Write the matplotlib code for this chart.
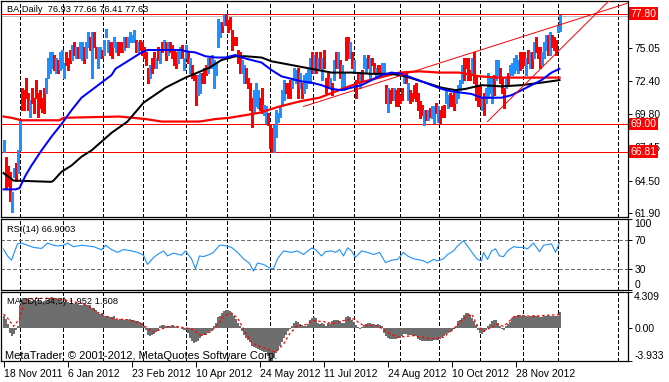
import numpy as np
import matplotlib
matplotlib.use("Agg")
import matplotlib.pyplot as plt
from matplotlib import font_manager

# ---- BA daily bars (bar 0 = 18 Nov 2011) ----
highs = [67.7, 66.4, 65.7, 65.2, 63.6, 65.5, 65.9, 66.9, 69.3, 71.9,
         71.7, 72.7, 71.5, 70.9, 71.9, 71.1, 72.5, 71.5, 71.7, 71.1,
         71.9, 72.7, 74.3, 74.7, 74.7, 74.5, 74.3, 74.1, 74.7, 74.9,
         73.9, 74.7, 74.3, 74.9, 75.3, 75.5, 75.1, 75.1, 75.5, 75.5,
         75.1, 75.5, 76.3, 75.9, 76.3, 76.3, 75.1, 75.1, 75.1, 74.9,
         75.7, 76.6, 75.7, 75.5, 75.5, 75.9, 75.5, 75.5, 75.5, 75.5,
         75.9, 75.9, 75.9, 76.3, 76.1, 76.5, 75.7, 75.5, 75.7, 75.5,
         75.1, 74.7, 73.5, 73.7, 74.3, 74.7, 74.3, 75.1, 74.9, 75.5,
         75.7, 75.5, 75.5, 75.5, 75.3, 74.9, 74.7, 74.9, 75.1, 75.3,
         74.3, 75.3, 74.7, 74.3, 73.7, 73.1, 72.9, 72.9, 73.1, 73.1,
         73.5, 73.7, 74.3, 74.3, 74.5, 74.1, 73.9, 77.4, 77.1, 77.1,
         77.8, 77.8, 77.3, 77.5, 76.5, 75.9, 75.9, 74.9, 74.7, 74.1,
         73.7, 73.5, 72.7, 72.3, 71.1, 71.7, 72.3, 71.7, 71.1, 71.9,
         70.5, 70.4, 69.9, 68.9, 68.7, 68.9, 70.1, 69.9, 70.4, 71.7,
         72.5, 72.3, 72.3, 72.5, 72.7, 73.5, 73.3, 73.5, 73.1, 72.3,
         72.9, 73.1, 73.5, 74.3, 74.7, 74.5, 74.7, 74.3, 74.7, 74.3,
         74.9, 72.7, 73.1, 72.7, 72.3, 74.1, 74.7, 74.7, 74.1, 73.7,
         73.1, 75.9, 75.9, 75.5, 74.7, 74.1, 72.5, 73.1, 73.1, 73.3,
         74.5, 74.3, 74.5, 74.3, 74.3, 73.9, 73.5, 73.7, 73.7, 73.9,
         73.9, 72.1, 71.9, 71.7, 71.9, 71.9, 71.7, 71.9, 71.3, 71.9,
         73.1, 73.1, 72.3, 71.7, 71.5, 72.1, 72.3, 71.5, 70.8, 70.5,
         70.1, 70.1, 70.1, 70.3, 70.4, 70.4, 70.7, 70.4, 70.1, 70.4,
         70.5, 71.9, 71.3, 71.5, 71.3, 71.5, 71.5, 72.1, 72.5, 73.7,
         74.3, 74.3, 74.3, 73.3, 74.3, 74.7, 72.9, 72.1, 72.1, 71.1,
         71.5, 71.9, 73.1, 72.7, 72.7, 72.9, 74.1, 74.1, 73.5, 72.7,
         71.9, 72.7, 73.1, 73.7, 73.9, 74.3, 74.5, 74.1, 74.7, 74.7,
         74.7, 74.3, 74.9, 74.7, 74.7, 75.5, 75.9, 75.1, 75.1, 74.7,
         75.5, 76.1, 76.1, 76.3, 76.1, 75.9, 75.7, 76.9, 77.66]
lows = [66.8, 63.9, 64.1, 62.9, 62.0, 64.8, 64.5, 65.1, 66.9, 70.1,
        70.1, 71.1, 70.1, 69.6, 70.7, 69.9, 71.1, 69.6, 70.3, 70.0,
        69.9, 71.5, 72.7, 73.1, 73.5, 73.3, 73.1, 73.1, 73.3, 73.5,
        72.7, 73.7, 73.3, 73.9, 74.1, 74.5, 74.3, 74.3, 74.3, 74.1,
        73.9, 74.3, 75.1, 74.9, 72.7, 75.1, 74.3, 73.5, 74.3, 74.3,
        74.5, 75.9, 74.7, 74.5, 74.3, 75.1, 74.7, 74.5, 74.7, 74.7,
        74.9, 75.1, 75.1, 75.5, 75.5, 75.5, 74.7, 74.7, 74.9, 74.5,
        74.3, 73.7, 72.3, 72.7, 73.1, 73.5, 73.5, 74.1, 73.9, 74.7,
        74.9, 74.1, 74.5, 74.7, 74.3, 73.7, 73.5, 73.9, 74.3, 74.3,
        73.3, 74.3, 73.9, 73.1, 72.7, 72.5, 70.5, 71.3, 71.5, 72.3,
        72.3, 72.9, 73.1, 73.5, 73.5, 71.9, 72.9, 75.1, 75.9, 76.3,
        76.9, 76.9, 76.3, 76.6, 74.9, 75.3, 75.3, 73.9, 73.1, 73.1,
        72.3, 72.3, 71.9, 70.1, 68.8, 69.9, 70.4, 70.3, 70.1, 69.9,
        69.7, 69.1, 68.9, 67.1, 66.8, 66.8, 68.0, 69.2, 69.6, 70.4,
        70.9, 71.5, 71.1, 71.1, 71.9, 72.5, 72.3, 71.1, 71.9, 71.1,
        71.5, 71.9, 72.3, 72.3, 73.1, 73.1, 73.1, 73.5, 73.5, 72.5,
        73.5, 71.5, 71.9, 71.9, 71.3, 72.5, 73.5, 73.5, 72.7, 71.9,
        71.7, 74.1, 74.3, 74.3, 73.5, 73.1, 71.1, 72.3, 71.9, 72.5,
        73.5, 73.1, 73.5, 72.7, 73.7, 73.1, 72.7, 73.1, 73.1, 73.1,
        73.1, 70.7, 70.0, 70.7, 70.9, 70.9, 70.4, 70.4, 70.7, 70.9,
        72.3, 72.3, 70.9, 70.7, 70.8, 71.1, 70.8, 70.1, 69.5, 69.7,
        68.9, 69.3, 69.3, 69.6, 69.5, 69.1, 69.9, 69.2, 69.1, 69.6,
        69.6, 70.7, 70.3, 70.4, 70.4, 70.1, 70.7, 71.1, 71.7, 72.3,
        72.5, 73.5, 72.5, 72.5, 73.1, 72.3, 70.9, 70.4, 70.4, 70.1,
        69.7, 70.7, 71.1, 71.5, 70.7, 71.3, 72.5, 72.9, 72.3, 71.5,
        70.3, 71.9, 72.1, 72.9, 72.9, 73.1, 73.3, 73.1, 73.3, 73.5,
        73.7, 72.9, 73.9, 73.5, 73.5, 74.3, 74.7, 74.3, 73.5, 73.7,
        74.3, 74.9, 74.5, 74.5, 75.1, 74.9, 74.5, 76.3, 76.41]
# u = up bar (blue), d = down bar (red), ten bars per chunk
updown = "".join([
    "uddduuduud", "dddudddddd", "duuuududuu", "udddududuu", "duududduud",
    "uuudduuddd", "uduuuududd", "ddduddudud", "ududddduud", "uududdduud",
    "dduduuuuud", "uddddddddu", "udddduuudd", "uuddduuuuu", "uddduuudud",
    "uuuudududu", "dddudududu", "uddududdud", "uududduddu", "ududdudddd",
    "ududdddddd", "ududuududd", "duuddduuuu", "dddduddddu", "duuuuduudd",
    "duduuuuudd", "dudududddu", "uududdduu",
])

# moving averages (bar, value) read at sample points
ma_blue_bar = [0, 6, 8, 11, 14, 19, 24, 29, 34, 39, 44, 49, 54, 56, 59, 63, 69, 72,
               81, 89, 91, 96, 101, 106, 111, 116, 119, 124, 129, 134, 139, 144,
               149, 154, 159, 164, 169, 174, 179, 184, 189, 194, 199, 204, 209,
               214, 219, 224, 229, 234, 239, 249, 254, 259, 264, 269, 274, 278]
ma_blue_val = [63.8, 63.8, 63.9, 64.9, 65.7, 66.9, 68.0, 69.0, 70.1, 71.1, 71.7, 72.3,
               72.9, 73.4, 73.7, 74.1, 74.7, 74.9, 74.9, 74.9, 74.8, 74.7, 74.4,
               74.3, 74.3, 74.5, 74.3, 74.1, 73.9, 73.3, 72.8, 72.6, 72.4, 72.3,
               72.1, 71.8, 71.7, 71.9, 72.1, 72.5, 72.9, 73.1, 73.0, 72.7, 72.4,
               72.1, 71.8, 71.6, 71.5, 71.4, 71.1, 71.1, 71.3, 71.7, 72.1, 72.5,
               73.1, 73.4]
ma_black_bar = [0, 5, 24, 25, 29, 34, 39, 44, 49, 54, 62, 70, 81, 91, 103, 109, 116,
                121, 129, 134, 144, 154, 164, 174, 184, 194, 201, 209, 219, 226,
                231, 239, 249, 259, 269, 278]
ma_black_val = [65.1, 64.5, 64.4, 64.5, 65.2, 65.7, 66.4, 66.9, 67.6, 68.3, 69.2,
                70.7, 71.9, 72.7, 73.5, 74.1, 74.4, 74.4, 74.3, 74.0, 73.7, 73.4,
                73.1, 73.1, 73.0, 73.0, 72.8, 72.4, 71.9, 71.7, 71.8, 72.1, 72.0,
                72.1, 72.3, 72.5]
ma_red_bar = [0, 4, 9, 28, 30, 58, 71, 79, 98, 106, 113, 128, 138, 148, 158, 171,
              178, 188, 198, 208, 218, 228, 238, 248, 268, 278]
ma_red_val = [69.6, 69.5, 69.3, 69.3, 69.5, 69.6, 69.4, 69.2, 69.2, 69.4, 69.5,
              69.9, 70.4, 70.8, 71.1, 71.9, 72.3, 72.7, 73.1, 73.2, 73.1, 73.1,
              72.8, 72.7, 72.7, 72.7]

# drawn objects: horizontal levels, bid line and two trend lines (bar, price)
levels = [77.80, 69.00, 66.81]
bid = 77.63
trend1 = [(150, 70.4), (278, 76.9)]
trend2 = [(242, 69.2), (278, 74.9)]

# RSI(14) sampled
rsi_bar = [0, 2, 4, 5, 7, 9, 12, 15, 19, 22,
           25, 27, 30, 32, 35, 39, 42, 45, 49, 51,
           54, 57, 60, 64, 67, 70, 72, 75, 77, 80,
           82, 85, 89, 91, 94, 96, 98, 100, 103, 105,
           108, 110, 114, 117, 120, 123, 125, 127, 130, 133,
           135, 137, 140, 144, 147, 150, 154, 156, 159, 161,
           164, 166, 168, 170, 172, 174, 176, 179, 182, 185,
           188, 191, 194, 197, 200, 202, 205, 207, 210, 212,
           215, 217, 220, 222, 225, 227, 230, 232, 235, 237,
           239, 240, 242, 244, 246, 248, 250, 252, 255, 257,
           260, 262, 265, 266, 268, 270, 274, 276, 278]
rsi_val = [57.6, 48, 42, 50, 65, 66, 63, 60, 58.5, 66,
           63, 62, 63, 66, 61, 63, 62, 61, 56.6, 63,
           57, 53, 57, 55, 53, 49, 36, 45.7, 50, 55,
           48, 52, 49, 55, 44, 30, 48, 47, 50, 53,
           63, 63, 60, 53, 44, 37.6, 26.6, 38, 36, 31,
           30, 44, 55, 53, 55, 50, 59, 57, 48, 54,
           55, 53, 57, 48, 59.5, 55, 46, 55, 53, 50,
           53, 38.5, 42, 43, 53, 48, 44, 43, 41, 38,
           43, 41, 44, 50, 55, 62, 69.5, 62, 50, 43,
           41, 53, 43, 55, 58, 48, 47, 55, 61, 60,
           60, 58, 66, 62, 54, 63, 65, 53, 66.9]

# MACD(5,34,5): histogram per bar, signal sampled
macd = [1.4, 1.1, 0.5, -0.6, -1.0, -0.7, -0.2, 0.3, 2.8,
        3.4, 3.5, 3.6, 3.5, 3.4,
        3.2, 3.3, 3.2, 3.3, 3.2, 3.1, 3.2, 3.3, 3.4,
        3.6, 3.7, 3.6, 3.6, 3.5,
        3.2, 3.1, 3.1, 3.2, 3.1,
        3.0, 3.0, 2.9, 3.0, 2.9, 2.8, 2.8, 2.9, 2.8, 2.7, 2.7,
        2.4, 2.4, 2.2, 1.8, 1.7, 1.8,
        1.5, 1.4, 1.4, 1.3, 1.3, 1.4,
        1.1, 1.0, 1.1, 1.0, 1.0, 1.1, 1.0, 1.1, 1.0, 1.0,
        0.8, 0.8, 0.7, 0.6, 0.3, -0.2, -0.8,
        -0.9, -0.8, -0.7, -0.5, -0.3, 0.2, 0.4, 0.4, 0.3,
        0.2, 0.3, 0.2, 0.2, 0.1, 0.1, 0.0,
        -0.1, -0.2, -0.2, -0.6, -1.2, -1.6, -1.8, -1.7, -1.5, -1.2,
        -1.0, -0.8, -0.8, -0.6, -0.4, -0.3, 0.2, 0.6, 1.3,
        1.5, 1.8, 2.0, 2.1, 2.2, 2.0, 1.8, 1.4,
        1.1, 0.6, 0.2, -0.3, -0.8, -1.2, -1.4, -1.7,
        -2.2, -2.3, -2.4, -2.5, -2.6, -2.7, -2.8, -2.9,
        -3.3, -3.6, -3.93, -3.6, -3.0, -2.6, -2.2, -1.7,
        -1.2, -0.8, -0.4, -0.1, 0.3, 0.6, 0.8, 0.7, 0.5,
        0.4, 0.3, 0.3, 0.5, 1.0, 1.2, 1.3, 1.2,
        0.6, 0.5, 0.6, 0.5, 0.3, 0.6, 0.5,
        0.9, 1.0, 1.0, 1.0, 0.9, 0.6, 0.6, 1.3, 1.4, 1.3,
        1.0, 0.7, 0.4, 0.1, -0.1, 0.1,
        0.4, 0.5, 0.6, 0.6, 0.5, 0.5, 0.4, 0.5, 0.4, 0.3,
        -0.6, -1.0, -1.2, -1.3, -1.3, -1.3, -1.3, -1.2, -1.2,
        -0.9, -0.7, -0.7, -0.8, -0.8, -0.8, -0.9, -1.0,
        -1.3, -1.4, -1.5, -1.5, -1.5, -1.6, -1.5, -1.5, -1.4, -1.4, -1.4, -1.3,
        -1.1, -1.0, -0.7, -0.6, -0.5, -0.3, -0.1, 0.3,
        0.8, 1.0, 1.2, 1.6, 1.8, 1.8, 1.6, 1.2, 0.9, 0.4,
        -0.2, -0.6, -0.7, -0.5, -0.2, 0.2, 0.5, 0.8, 1.0, 1.0,
        0.6, 0.2, -0.1, -0.2, 0.2, 0.5, 0.7,
        1.2, 1.4, 1.5, 1.6, 1.6, 1.5, 1.5, 1.4, 1.3, 1.5,
        1.5, 1.6, 1.5, 1.4, 1.3, 1.3, 1.4, 1.5, 1.6, 1.5, 1.4, 1.5, 1.4,
        1.5, 1.952]
signal_bar = [0, 2, 5, 8, 10, 12, 19, 25, 32, 40,
              45, 49, 55, 62, 69, 75, 79, 84, 89, 94,
              99, 103, 107, 110, 114, 117, 120, 124, 127, 132,
              136, 140, 143, 147, 150, 155, 162, 164, 170, 175,
              180, 187, 192, 197, 205, 214, 220, 225, 230, 234,
              237, 240, 244, 247, 250, 255, 259, 264, 270, 278]
signal_val = [1.67, 1.2, 0.2, 1.1, 2.8, 3.5, 3.55, 3.55, 3.3, 2.9,
              2.2, 1.6, 1.1, 1.0, 0.5, -0.5, -0.1, 0.3, 0.1, -0.1,
              -0.9, -0.5, 0.3, 1.4, 1.8, 1.2, -0.1, -1.7, -2.1, -2.5,
              -2.9, -1.9, -0.7, 0.3, 0.3, 0.9, 0.7, 0.5, 0.9, 1.1,
              0.3, 0.3, -0.5, -1.1, -0.9, -1.3, -1.1, -0.1, 1.1, 1.7,
              0.3, -0.4, 0.1, 0.5, 0.2, 1.3, 1.5, 1.4, 1.5, 1.608]

# axis labels
date_bars = [0, 32, 64, 96, 128, 160, 192, 224, 256]
date_labels = ["18 Nov 2011", "6 Jan 2012", "23 Feb 2012", "10 Apr 2012", "24 May 2012",
               "11 Jul 2012", "24 Aug 2012", "10 Oct 2012", "28 Nov 2012"]
month_bars = [8, 29.5, 49.5, 69.5, 91, 111.5, 133, 154.5, 175, 198, 217.5, 238,
              259.5, 277, 307]
price_ticks = [61.90, 64.50, 67.15, 69.80, 72.40, 75.05]

plt.rcParams['font.family'] = ['Liberation Sans', 'DejaVu Sans']
installed = {f.name for f in font_manager.fontManager.ttflist}
label_font = 'Liberation Sans Narrow' if 'Liberation Sans Narrow' in installed else 'Liberation Sans'
label_size = 7.5 if label_font.endswith('Narrow') else 6.7

W, H = 669, 382
fig = plt.figure(figsize=(W / 100, H / 100), dpi=100)


def px_box(l, t, r, b):
    return [l / W, 1 - b / H, (r - l) / W, (b - t) / H]


ax = fig.add_axes(px_box(1, 1, 628, 217))
ax_rsi = fig.add_axes(px_box(1, 219, 628, 290))
ax_macd = fig.add_axes(px_box(1, 292, 628, 361))

BLUE_BAR = '#1E90FF'
grid_ls = (0, (4, 2.5))
XMIN, XMAX = -1.25, 312.25   # half-pixel shift so 1-px bars sit on pixel centres

for a in (ax, ax_rsi, ax_macd):
    a.set_xlim(XMIN, XMAX)
    for s in a.spines.values():
        s.set_color('black')
        s.set_linewidth(0.9)
    for m in month_bars:
        a.axvline(m, color='black', lw=0.72, ls=grid_ls, antialiased=False, zorder=1)
    a.yaxis.tick_right()
    a.tick_params(axis='y', direction='out', length=3, width=0.7, pad=1.5,
                  labelsize=7.5, colors='black')
    a.tick_params(axis='x', bottom=False, labelbottom=False)

# ---- main price panel ----
x = np.arange(len(highs))
cols = [BLUE_BAR if c == 'u' else '#FF0000' for c in updown]
ax.vlines(x, lows, highs, colors=cols, linewidths=1.0, antialiaseds=False, zorder=3)

ax.plot(ma_red_bar, ma_red_val, color='red', lw=1.6, zorder=4)
ax.plot(ma_black_bar, ma_black_val, color='black', lw=1.45, zorder=4)
ax.plot(ma_blue_bar, ma_blue_val, color='#0000FF', lw=1.45, zorder=4)

ax.axhline(bid, color='#C0C0C0', lw=0.7, antialiased=False, zorder=2)
for lv in levels:
    ax.axhline(lv, color='red', lw=0.7, antialiased=False, zorder=2)
for (b0, p0), (b1, p1) in (trend1, trend2):
    slope = (p1 - p0) / (b1 - b0)
    ax.plot([b0, XMAX], [p0, p0 + slope * (XMAX - b0)], color='red', lw=0.7, zorder=5)

ax.set_ylim(61.6, 78.8)
ax.set_yticks(price_ticks)
ax.set_yticklabels([f"{t:.2f}" for t in price_ticks])
ytr = ax.get_yaxis_transform()
for lv in levels:
    ax.text(1.004, lv, f"{lv:.2f}", transform=ytr, ha='left', va='center',
            fontsize=7.5, color='white', clip_on=False, zorder=10,
            bbox=dict(boxstyle='square,pad=0.12', fc='red', ec='none'))

fig.text(7 / W, 1 - 10 / H, "BA,Daily  76.93 77.66 76.41 77.63", fontsize=label_size,
         family=label_font, va='center', ha='left')

# ---- RSI panel ----
ax_rsi.plot(rsi_bar, rsi_val, color=BLUE_BAR, lw=0.8, zorder=3)
for lv in (70, 30):
    ax_rsi.axhline(lv, color='#707070', lw=0.72, ls=grid_ls, antialiased=False)
ax_rsi.set_ylim(0, 100)
ax_rsi.set_yticks([0, 30, 70, 100])
ax_rsi.set_yticklabels(['0', '30', '70', '100'])
labs = ax_rsi.get_yticklabels()
labs[0].set_va('bottom')
labs[3].set_va('top')
fig.text(7 / W, 1 - 229 / H, "RSI(14) 66.9003", fontsize=label_size, family=label_font,
         va='center', ha='left')

# ---- MACD panel ----
ax_macd.bar(np.arange(len(macd)), macd, width=1.0, color='#6E6E6E', lw=0, zorder=2)
ax_macd.plot(signal_bar, signal_val, color='red', lw=0.9, ls=(0, (2, 2)), zorder=3)
ax_macd.set_ylim(-3.933, 4.309)
ax_macd.set_yticks([-3.933, 0, 4.309])
ax_macd.set_yticklabels(['-3.933', '0.00', '4.309'])
labs = ax_macd.get_yticklabels()
labs[0].set_va('bottom')
labs[2].set_va('top')
fig.text(7 / W, 1 - 302 / H, "MACD(5,34,5) 1.952 1.608", fontsize=label_size,
         family=label_font, va='center', ha='left')

ax_macd.set_xticks(date_bars)
ax_macd.set_xticklabels(date_labels, ha='left')
ax_macd.tick_params(axis='x', bottom=True, labelbottom=True, direction='out',
                    length=4, width=0.7, pad=1.5, labelsize=7.5)

fig.text(5 / W, 1 - 356 / H, "MetaTrader, \u00a9 2001-2012, MetaQuotes Software Corp.",
         fontsize=8, va='center', ha='left', zorder=20)

fig.savefig("out.png", dpi=100)
